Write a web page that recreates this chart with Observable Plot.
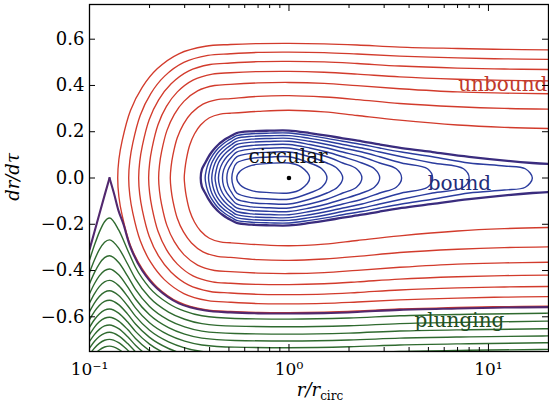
<!DOCTYPE html>
<html><head><meta charset="utf-8">
<script src="https://cdn.jsdelivr.net/npm/d3@7"></script>
<script src="https://cdn.jsdelivr.net/npm/@observablehq/plot@0.6"></script>
<style>body{margin:0;background:#fff}</style>
</head><body><div id="chart"></div>
<script>
// ---- axis ticks ----
const xMajor = [0.1, 1, 10];
const xMajorLabels = ["10\u207B\u00B9", "10\u2070", "10\u00B9"];
const xMinor = [0.2,0.3,0.4,0.5,0.6,0.7,0.8,0.9,2,3,4,5,6,7,8,9];
const yTicks = [-0.6,-0.4,-0.2,0,0.2,0.4,0.6];

// ---- unbound orbits: upper halves [r/rcirc, dr/dtau], outermost first (mirrored below) ----
const unboundUpper = [
  [[0.1385,0],[0.1404,0.081],[0.1458,0.162],[0.1605,0.292],[0.1837,0.392],[0.2184,0.472],[0.2803,0.537],[0.3815,0.5695],[0.5088,0.577],[0.7,0.581],[1,0.582],[1.5,0.580],[2.2,0.575],[3.59,0.566],[7,0.560],[12,0.556],[20,0.554]],
  [[0.1572,0],[0.1593,0.0757],[0.1648,0.151],[0.1797,0.2717],[0.2029,0.3652],[0.2373,0.4393],[0.2971,0.4994],[0.3923,0.530],[0.5088,0.537],[0.7,0.543],[1,0.544],[1.5,0.542],[2.2,0.536],[3.59,0.527],[7,0.519],[12,0.515],[20,0.513]],
  [[0.1764,0],[0.1785,0.070],[0.1841,0.1397],[0.1991,0.2515],[0.2221,0.338],[0.2559,0.4065],[0.3131,0.4622],[0.4025,0.4905],[0.5088,0.497],[0.7,0.503],[1,0.504],[1.5,0.502],[2.2,0.495],[3.59,0.484],[7,0.475],[12,0.471],[20,0.469]],
  [[0.1979,0],[0.2002,0.0642],[0.2057,0.1279],[0.2205,0.2302],[0.2431,0.3094],[0.2758,0.3722],[0.3302,0.4232],[0.4129,0.4491],[0.5088,0.455],[0.7,0.460],[1,0.461],[1.5,0.457],[2.2,0.449],[3.59,0.437],[7,0.427],[12,0.422],[20,0.420]],
  [[0.2221,0],[0.2244,0.0571],[0.2298,0.1138],[0.2443,0.2049],[0.2662,0.2754],[0.2973,0.3313],[0.3481,0.3767],[0.4236,0.3997],[0.5088,0.405],[0.7,0.411],[1,0.413],[1.5,0.409],[2.2,0.399],[3.59,0.386],[7,0.372],[12,0.367],[20,0.364]],
  [[0.2541,0],[0.2564,0.0484],[0.2616,0.0964],[0.2754,0.1736],[0.2959,0.2332],[0.3246,0.2806],[0.3705,0.319],[0.4365,0.3385],[0.5088,0.343],[0.7,0.353],[1,0.356],[1.5,0.350],[2.2,0.339],[3.59,0.322],[7,0.308],[12,0.301],[20,0.298]],
  [[0.2985,0],[0.301,0.0395],[0.3056,0.0787],[0.3178,0.1417],[0.3358,0.1904],[0.3605,0.229],[0.399,0.2604],[0.4524,0.2764],[0.5088,0.28],[0.7,0.288],[1,0.293],[1.5,0.286],[2.2,0.27],[3.59,0.25],[7,0.229],[12,0.219],[20,0.214]]
];

// ---- bound orbits: upper halves, outer boundary (marginally bound) first ----
const boundUpper = [
  [[0.361,0],[0.366,0.037],[0.38,0.0648],[0.395,0.0917],[0.41,0.1122],[0.426,0.1296],[0.443,0.1449],[0.464,0.1587],[0.488,0.1715],[0.517,0.1833],[0.547,0.1944],[0.65,0.2019],[0.8,0.2044],[1,0.2049],[1.27,0.1944],[1.55,0.1833],[1.86,0.1715],[2.32,0.1587],[2.85,0.1449],[3.67,0.1296],[5.25,0.1122],[8,0.0917],[16.6,0.0648],[20,0.0608]],
  [[0.38,0],[0.385,0.034],[0.395,0.0648],[0.41,0.0917],[0.426,0.1122],[0.443,0.1296],[0.464,0.1449],[0.488,0.1587],[0.517,0.1715],[0.547,0.1833],[0.65,0.1913],[0.8,0.1939],[1,0.1944],[1.27,0.1833],[1.55,0.1715],[1.86,0.1587],[2.32,0.1449],[2.85,0.1296],[3.67,0.1122],[5.25,0.0917],[8,0.0648],[12,0.052],[15.3,0.040],[16.6,0]],
  [[0.395,0],[0.4,0.034],[0.41,0.0648],[0.426,0.0917],[0.443,0.1122],[0.464,0.1296],[0.488,0.1449],[0.517,0.1587],[0.547,0.1715],[0.65,0.18],[0.8,0.1827],[1,0.1833],[1.27,0.1715],[1.55,0.1587],[1.86,0.1449],[2.32,0.1296],[2.85,0.1122],[3.67,0.0917],[5.25,0.0648],[7.5,0.040],[8,0]],
  [[0.41,0],[0.415,0.034],[0.426,0.0648],[0.443,0.0917],[0.464,0.1122],[0.488,0.1296],[0.517,0.1449],[0.547,0.1587],[0.65,0.1679],[0.8,0.1708],[1,0.1715],[1.27,0.1587],[1.55,0.1449],[1.86,0.1296],[2.32,0.1122],[2.85,0.0917],[3.67,0.0648],[4.95,0.040],[5.25,0]],
  [[0.426,0],[0.432,0.034],[0.443,0.0648],[0.464,0.0917],[0.488,0.1122],[0.517,0.1296],[0.547,0.1449],[0.65,0.1549],[0.8,0.1581],[1,0.1587],[1.27,0.1449],[1.55,0.1296],[1.86,0.1122],[2.32,0.0917],[2.85,0.0648],[3.45,0.040],[3.67,0]],
  [[0.443,0],[0.449,0.034],[0.464,0.0648],[0.488,0.0917],[0.517,0.1122],[0.547,0.1296],[0.65,0.1406],[0.8,0.1442],[1,0.1449],[1.27,0.1296],[1.55,0.1122],[1.86,0.0917],[2.32,0.0648],[2.68,0.040],[2.85,0]],
  [[0.464,0],[0.47,0.034],[0.488,0.0648],[0.517,0.0917],[0.547,0.1122],[0.65,0.1248],[0.8,0.1288],[1,0.1296],[1.27,0.1122],[1.55,0.0917],[1.86,0.0648],[2.18,0.040],[2.32,0]],
  [[0.488,0],[0.495,0.034],[0.517,0.0648],[0.547,0.0917],[0.65,0.1067],[0.8,0.1113],[1,0.1122],[1.27,0.0917],[1.55,0.0648],[1.75,0.040],[1.86,0]],
  [[0.517,0],[0.525,0.034],[0.547,0.0648],[0.65,0.0847],[0.8,0.0905],[1,0.0917],[1.27,0.0648],[1.46,0.040],[1.55,0]],
  [[0.547,0],[0.57,0.03],[0.65,0.0546],[0.8,0.0632],[1,0.0648],[1.15,0.048],[1.27,0]]
];

// ---- separatrix through the unstable circular orbit ----
const separatrixLeft = [[0.1,-0.31],[0.106,-0.231],[0.112,-0.157],[0.119,-0.075],[0.126,0]];
const separatrixRight = [[0.126,0],[0.133,-0.07],[0.14,-0.143],[0.148,-0.2],[0.1605,-0.3],[0.1837,-0.40],[0.2184,-0.478],[0.2803,-0.542],[0.3815,-0.573],[0.5088,-0.581],[0.7,-0.585],[1,-0.586],[1.5,-0.584],[2.2,-0.579],[3.59,-0.570],[7,-0.564],[12,-0.56],[20,-0.558]];

// ---- plunging orbits: dr/dtau sampled at plungingR ----
const plungingR = [0.1,0.106,0.112,0.119,0.126,0.14,0.155,0.17,0.2,0.249,0.3,0.366,0.536,1,2,3.59,8,20];
const plunging = [
  [-0.355,-0.289,-0.234,-0.189,-0.173,-0.2245,-0.3098,-0.386,-0.4748,-0.5424,-0.5757,-0.5957,-0.6072,-0.6101,-0.6053,-0.5957,-0.5891,-0.5843],
  [-0.4094,-0.3536,-0.31,-0.2777,-0.2674,-0.3032,-0.3708,-0.4365,-0.5166,-0.5794,-0.6107,-0.6296,-0.6405,-0.6432,-0.6387,-0.6296,-0.6233,-0.6188],
  [-0.4573,-0.408,-0.371,-0.3444,-0.3362,-0.3652,-0.4231,-0.4817,-0.5553,-0.6142,-0.6437,-0.6617,-0.6721,-0.6747,-0.6704,-0.6617,-0.6557,-0.6515],
  [-0.5006,-0.4561,-0.4232,-0.4001,-0.3931,-0.4182,-0.4696,-0.523,-0.5915,-0.6471,-0.6752,-0.6924,-0.7023,-0.7048,-0.7006,-0.6924,-0.6867,-0.6826],
  [-0.5405,-0.4995,-0.4697,-0.449,-0.4427,-0.4652,-0.5119,-0.5612,-0.6256,-0.6784,-0.7053,-0.7217,-0.7312,-0.7336,-0.7297,-0.7217,-0.7162,-0.7123],
  [-0.5776,-0.5394,-0.512,-0.4931,-0.4873,-0.5078,-0.5509,-0.5971,-0.658,-0.7083,-0.7341,-0.7499,-0.7591,-0.7614,-0.7576,-0.7499,-0.7447,-0.7409],
  [-0.6125,-0.5766,-0.551,-0.5335,-0.5282,-0.5472,-0.5874,-0.6309,-0.6888,-0.737,-0.7618,-0.7771,-0.786],
  [-0.6454,-0.6116,-0.5875,-0.571,-0.5661,-0.5839,-0.6217,-0.663,-0.7183,-0.7647,-0.7886,-0.8034],
  [-0.6768,-0.6446,-0.6218,-0.6063,-0.6017,-0.6184,-0.6542,-0.6935,-0.7466,-0.7913,-0.8145],
  [-0.7068,-0.676,-0.6543,-0.6396,-0.6352,-0.6511,-0.6852,-0.7228,-0.7739,-0.8171],
  [-0.7356,-0.706,-0.6853,-0.6713,-0.6671,-0.6822,-0.7148,-0.751,-0.8003],
  [-0.7633,-0.7348,-0.7149,-0.7015,-0.6975,-0.712,-0.7433,-0.7781],
  [-0.79,-0.7626,-0.7434,-0.7305,-0.7266,-0.7405,-0.7707,-0.8044]
];

// ---- stable circular orbit and region labels ----
const circularOrbit = [[1, 0]];
const regionLabels = [
  {text: "unbound", r: 11.8, v: 0.374, color: "#c0392b"},
  {text: "circular", r: 0.99, v: 0.064, color: "#111111"},
  {text: "bound", r: 7.15, v: -0.054, color: "#1f2d7a"},
  {text: "plunging", r: 7.15, v: -0.646, color: "#214d21"}
];

// ---- build tables ----
const redRows = [];
unboundUpper.forEach((c, i) => {
  c.slice(1).reverse().forEach(([r, v]) => redRows.push({r, v: -v, id: i}));
  c.forEach(([r, v]) => redRows.push({r, v, id: i}));
});
const boundaryRows = [];
const loopRows = [];
boundUpper.forEach((c, i) => {
  if (i === 0) {
    c.slice(1).reverse().forEach(([r, v]) => boundaryRows.push({r, v: -v}));
    c.forEach(([r, v]) => boundaryRows.push({r, v}));
  } else {
    c.forEach(([r, v]) => loopRows.push({r, v, id: i}));
    c.slice(1, -1).reverse().forEach(([r, v]) => loopRows.push({r, v: -v, id: i}));
  }
});
const greenRows = [];
plunging.forEach((vals, i) => vals.forEach((v, k) => greenRows.push({r: plungingR[k], v, id: i})));
const sepL = separatrixLeft.map(([r, v]) => ({r, v}));
const sepR = separatrixRight.map(([r, v]) => ({r, v}));

const serif = "'DejaVu Serif', serif";
const labelMap = new Map(xMajor.map((d, i) => [d, xMajorLabels[i]]));
const frameH = 412 - 4 - 61, frameW = 549 - 89 - 1;

const chart = Plot.plot({
  width: 549, height: 412,
  marginLeft: 89, marginRight: 1, marginTop: 4, marginBottom: 61,
  x: {type: "log", domain: [0.1, 20]},
  y: {domain: [-0.75, 0.75]},
  style: {fontFamily: serif, background: "white", color: "black"},
  marks: [
    Plot.line(greenRows, {x: "r", y: "v", z: "id", curve: "monotone-x", stroke: "#2f6a2f", strokeWidth: 1.4, clip: true}),
    Plot.line(redRows, {x: "r", y: "v", z: "id", curve: "catmull-rom", stroke: "#d23b2c", strokeWidth: 1.35, clip: true}),
    Plot.line(loopRows, {x: "r", y: "v", z: "id", curve: "catmull-rom-closed", stroke: "#2b3c9e", strokeWidth: 1.4, clip: true}),
    Plot.line(boundaryRows, {x: "r", y: "v", curve: "catmull-rom", stroke: "#3a2c7e", strokeWidth: 2.3, clip: true}),
    Plot.line(sepL, {x: "r", y: "v", curve: "linear", stroke: "#52286e", strokeWidth: 2.1, clip: true}),
    Plot.line(sepR, {x: "r", y: "v", curve: "catmull-rom", stroke: "#52286e", strokeWidth: 2.1, clip: true}),
    Plot.dot(circularOrbit, {x: d => d[0], y: d => d[1], r: 2.3, fill: "black", stroke: "none"}),
    Plot.text(regionLabels, {x: "r", y: "v", text: "text", fill: "color", fontSize: 20, fontFamily: serif, lineAnchor: "bottom"}),
    // inward ticks
    Plot.ruleX(xMajor, {stroke: "black", insetTop: frameH - 7}),
    Plot.ruleX(xMajor, {stroke: "black", insetBottom: frameH - 7}),
    Plot.ruleX(xMinor, {stroke: "black", insetTop: frameH - 4}),
    Plot.ruleX(xMinor, {stroke: "black", insetBottom: frameH - 4}),
    Plot.ruleY(yTicks, {stroke: "black", insetRight: frameW - 6}),
    Plot.ruleY(yTicks, {stroke: "black", insetLeft: frameW - 6}),
    Plot.frame({stroke: "black", strokeWidth: 1.3}),
    Plot.axisY(yTicks, {tickSize: 0, tickPadding: 5, fontSize: 18, label: null,
      tickFormat: d => (d < 0 ? "\u2212" : "") + Math.abs(d).toFixed(1)}),
    Plot.axisX(xMajor, {tickSize: 0, tickPadding: 11, fontSize: 17, label: null,
      tickFormat: d => labelMap.get(d)})
  ]
});

const svg = d3.select(chart);
svg.append("text")
  .attr("transform", "translate(19,177) rotate(-90)")
  .attr("text-anchor", "middle")
  .style("font-family", serif).style("font-style", "italic").style("font-size", "18px")
  .text("dr/d\u03C4");
const xl = svg.append("text")
  .attr("x", 320).attr("y", 396).attr("text-anchor", "middle")
  .style("font-family", serif).style("font-size", "18px");
xl.append("tspan").style("font-style", "italic").text("r/r");
xl.append("tspan").attr("dy", 4).style("font-size", "12px").text("circ");

document.getElementById("chart").appendChild(chart);
</script></body></html>
